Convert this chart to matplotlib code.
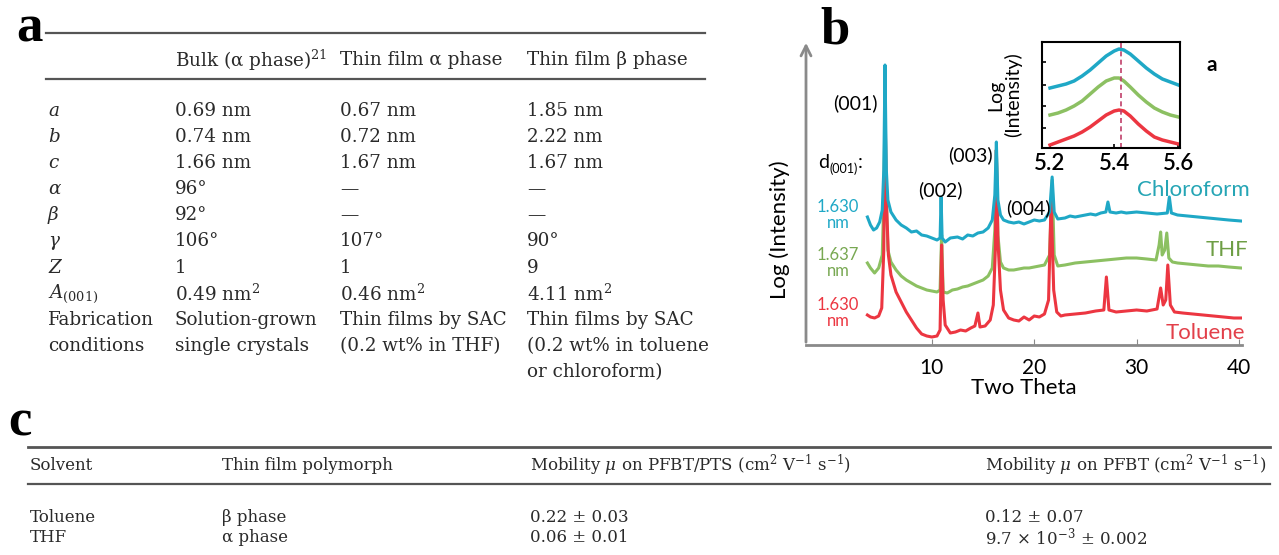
import numpy as np
import matplotlib.pyplot as plt
from matplotlib.lines import Line2D

plt.rcParams['mathtext.fontset'] = 'dejavuserif'

""" Data """
# table a
cell_params = ['a', 'b', 'c', 'α', 'β', 'γ', 'Z', '$A_{(001)}$', 'Fabrication\nconditions']
bulk_alpha = ['0.69 nm', '0.74 nm', '1.66 nm', '96°', '92°', '106°', '1', '0.49 nm$^2$',
              'Solution-grown\nsingle crystals']
film_alpha = ['0.67 nm', '0.72 nm', '1.67 nm', '—', '—', '107°', '1', '0.46 nm$^2$',
              'Thin films by SAC\n(0.2 wt% in THF)']
film_beta = ['1.85 nm', '2.22 nm', '1.67 nm', '—', '—', '90°', '9', '4.11 nm$^2$',
             'Thin films by SAC\n(0.2 wt% in toluene\nor chloroform)']
headers_a = ['Bulk (α phase)$^{21}$', 'Thin film α phase', 'Thin film β phase']

# table c
headers_c = ['Solvent', 'Thin film polymorph',
             r'Mobility $\mu$ on PFBT/PTS (cm$^2$ V$^{-1}$ s$^{-1}$)',
             r'Mobility $\mu$ on PFBT (cm$^2$ V$^{-1}$ s$^{-1}$)']
solvents = ['Toluene', 'THF']
polymorphs = ['β phase', 'α phase']
mob_pfbt_pts = ['0.22 ± 0.03', '0.06 ± 0.01']
mob_pfbt = ['0.12 ± 0.07', r'9.7 $\times$ 10$^{-3}$ ± 0.002']

# XRD traces (two theta, log intensity in arbitrary units)
chl_x = [3.7, 4.0, 4.3, 4.6, 4.9, 5.15, 5.3, 5.42, 5.55, 5.7, 6.0, 6.5, 7.0, 7.5, 8.0, 8.5,
         9.0, 9.5, 10.0, 10.5, 10.8, 10.9, 11.0, 11.3, 11.8, 12.5, 13.0, 13.5, 14.0, 14.5,
         15.0, 15.5, 15.9, 16.15, 16.3, 16.45, 16.7, 17.0, 17.5, 18.0, 18.5, 19.0, 19.5,
         20.0, 20.5, 21.0, 21.5, 21.75, 21.95, 22.3, 23.0, 23.5, 24.0, 24.5, 25.0, 25.5,
         26.0, 26.5, 27.0, 27.2, 27.4, 28.0, 28.5, 29.0, 30.0, 31.0, 32.0, 33.0, 33.2,
         33.4, 34.0, 35.0, 36.0, 37.0, 38.0, 39.0, 40.2]
chl_y = [128, 120, 115, 117, 123, 135, 175, 280, 175, 145, 133, 125, 120, 117, 113, 114,
         110, 109, 107, 105, 107, 148, 107, 103, 107, 108, 106, 110, 109, 112,
         113, 117, 125, 150, 203, 145, 130, 125, 123, 122, 123, 121, 123,
         125, 124, 125, 133, 168, 133, 126, 127, 129, 128, 129, 130, 131,
         130, 132, 133, 143, 133, 132, 133, 132, 133, 132, 131, 132, 148,
         132, 130, 129, 128, 127, 126, 125, 124]

thf_x = [3.7, 4.0, 4.4, 4.8, 5.15, 5.3, 5.42, 5.55, 5.7, 6.0, 6.5, 7.0, 7.5, 8.0, 8.5, 9.0,
         9.5, 10.0, 10.5, 10.8, 10.95, 11.1, 11.5, 12.0, 12.5, 13.0, 13.5, 14.0, 14.5, 15.0,
         15.5, 15.9, 16.15, 16.3, 16.45, 16.7, 17.0, 17.5, 18.0, 18.5, 19.0, 19.5, 20.0,
         20.5, 21.0, 21.5, 21.75, 21.95, 22.3, 23.0, 24.0, 25.0, 26.0, 27.0, 28.0, 29.0,
         30.0, 31.0, 31.9, 32.2, 32.35, 32.5, 32.75, 32.95, 33.15, 33.5, 34.0, 35.0, 36.0,
         37.0, 38.0, 39.0, 40.2]
thf_y = [82, 77, 72, 77, 90, 145, 240, 145, 95, 83, 75, 69, 65, 62, 59, 57,
         55, 54, 53, 55, 110, 53, 52, 55, 56, 58, 59, 61, 63, 65,
         69, 77, 115, 195, 110, 83, 77, 75, 75, 76, 77, 77, 78,
         79, 80, 90, 165, 90, 79, 80, 82, 83, 84, 85, 86, 87,
         87, 86, 85, 100, 113, 90, 95, 112, 87, 83, 82, 81, 80,
         79, 79, 78, 77]

tol_x = [3.7, 4.0, 4.4, 4.8, 5.1, 5.3, 5.42, 5.55, 5.75, 6.0, 6.5, 7.0, 7.5, 8.0, 8.5, 9.0,
         9.5, 10.0, 10.5, 10.8, 10.95, 11.1, 11.3, 11.8, 12.3, 12.8, 13.3, 13.8, 14.2, 14.5,
         14.7, 15.2, 15.7, 16.0, 16.2, 16.3, 16.45, 16.7, 17.0, 17.5, 18.0, 18.5, 19.0,
         19.5, 20.0, 20.5, 21.0, 21.4, 21.65, 21.9, 22.2, 22.6, 23.0, 24.0, 25.0, 26.0,
         26.8, 27.05, 27.3, 28.0, 29.0, 30.0, 31.0, 32.0, 32.35, 32.6, 32.85, 33.05, 33.3,
         33.7, 34.5, 35.5, 36.5, 37.5, 38.5, 39.5, 40.2]
tol_y = [30, 28, 27, 29, 37, 95, 250, 145, 90, 70, 53, 43, 33, 25, 17, 11,
         9, 8, 9, 15, 100, 45, 20, 12, 13, 15, 14, 17, 19, 32,
         18, 19, 25, 40, 95, 195, 105, 55, 35, 27, 25, 24, 28,
         25, 29, 28, 31, 45, 145, 55, 33, 29, 30, 31, 32, 34,
         35, 68, 35, 33, 34, 35, 34, 36, 57, 40, 45, 80, 40,
         33, 32, 31, 30, 29, 28, 27, 27]

# inset: (001) peak region
ins_x = [5.2, 5.225, 5.25, 5.275, 5.3, 5.325, 5.35, 5.375, 5.4, 5.415, 5.43, 5.45, 5.475,
         5.5, 5.525, 5.55, 5.575, 5.6]
ins_chl_y = [60, 62, 64, 67, 72, 78, 85, 92, 97, 99, 98, 94, 87, 80, 74, 69, 66, 63]
ins_thf_y = [33, 35, 38, 42, 47, 54, 61, 67, 70, 70, 67, 61, 53, 46, 40, 36, 33, 31]
ins_tol_y = [3, 6, 9, 12, 16, 21, 27, 33, 37, 38, 37, 32, 24, 17, 11, 8, 6, 4]
peak_pos = 5.42

c_chl, c_thf, c_tol = '#1fa8c6', '#8cc062', '#ec3641'

""" Layout helpers (pixel coords of the 1279x555 canvas) """
W, H = 1279, 555
fig = plt.figure(figsize=(W / 100, H / 100), dpi=100)


def put(x, y, s, **kw):
    kw.setdefault('va', 'center')
    kw.setdefault('ha', 'left')
    fig.text(x / W, 1 - y / H, s, **kw)


def rule(x0, x1, y, lw=1.6):
    fig.add_artist(Line2D([x0 / W, x1 / W], [1 - y / H] * 2, transform=fig.transFigure,
                          color='#555555', lw=lw))


serif = dict(family='DejaVu Serif', fontsize=13.2, color='#2a2a2a')
serif_c = dict(family='DejaVu Serif', fontsize=12, color='#2a2a2a')
sans = 'Lato'

""" Panel a """
put(16, 29, 'a', family='Liberation Serif', fontsize=38, fontweight='bold')
rule(46, 705, 33)
rule(46, 705, 79)
col_x = [175, 340, 527]
for cx, h in zip(col_x, headers_a):
    put(cx, 60, h, **serif)
row_y0, row_dy = 111, 26.1
for i, lab in enumerate(cell_params):
    for j, line in enumerate(lab.split('\n')):
        style = 'italic' if i < 7 else 'normal'
        put(48, row_y0 + row_dy * (i + j), line, style=style, **serif)
    for cx, col in zip(col_x, [bulk_alpha, film_alpha, film_beta]):
        for j, line in enumerate(col[i].split('\n')):
            put(cx, row_y0 + row_dy * (i + j), line, **serif)

""" Panel c """
put(8, 423, 'c', family='Liberation Serif', fontsize=38, fontweight='bold')
rule(28, 1270, 447, lw=2.0)
rule(28, 1270, 484)
c_cols = [30, 222, 530, 985]
for cx, h in zip(c_cols, headers_c):
    put(cx, 465, h, **serif_c)
for k, row in enumerate(zip(solvents, polymorphs, mob_pfbt_pts, mob_pfbt)):
    for cx, s in zip(c_cols, row):
        put(cx, 518 + 19.5 * k, s, **serif_c)

""" Panel b: XRD """
ax = fig.add_axes([806 / W, 1 - 345 / H, (1242 - 806) / W, (345 - 40) / H])
ax.plot(thf_x, thf_y, color=c_thf, lw=2.2)
ax.plot(tol_x, tol_y, color=c_tol, lw=2.2)
ax.plot(chl_x, chl_y, color=c_chl, lw=2.2)
ax.set_xlim(-2.3, 40.3)
ax.set_ylim(0, 305)
for s in ['top', 'right', 'left']:
    ax.spines[s].set_visible(False)
ax.spines['bottom'].set_color('#8a8a8a')
ax.spines['bottom'].set_linewidth(2)
ax.annotate('', xy=(0, 1.0), xytext=(0, 0), xycoords='axes fraction',
            arrowprops=dict(arrowstyle='->', color='#8a8a8a', lw=2, mutation_scale=18))
ax.set_yticks([])
ax.set_xticks([10, 20, 30, 40])
ax.tick_params(axis='x', direction='in', length=4, color='#8a8a8a', labelsize=15, pad=9)
for t in ax.get_xticklabels():
    t.set_family(sans)
ax.set_xlabel('Two Theta', family=sans, fontsize=16, labelpad=0)
ax.patch.set_alpha(0)

put(780, 230, 'Log (Intensity)', family=sans, fontsize=16, rotation=90, ha='center')
put(820, 30, 'b', family='Liberation Serif', fontsize=38, fontweight='bold')
put(855, 103, '(001)', family=sans, fontsize=14, ha='center')
put(940, 190, '(002)', family=sans, fontsize=14, ha='center')
put(970, 155, '(003)', family=sans, fontsize=14, ha='center')
put(1028, 208, '(004)', family=sans, fontsize=14, ha='center')
put(818, 163, 'd', family=sans, fontsize=14)
put(829, 169, '(001)', family=sans, fontsize=9)
put(858, 163, ':', family=sans, fontsize=14)
for y, col, lab in [(207, c_chl, '1.630'), (255, '#78a852', '1.637'), (305, c_tol, '1.630')]:
    put(838, y, lab, family=sans, fontsize=12, color=col, ha='center')
    put(838, y + 16, 'nm', family=sans, fontsize=12, color=col, ha='center')
put(1250, 190, 'Chloroform', family=sans, fontsize=16, color='#25a5b5', ha='right')
put(1248, 250, 'THF', family=sans, fontsize=16, color='#6e9e45', ha='right')
put(1245, 333, 'Toluene', family=sans, fontsize=16, color='#e2404a', ha='right')

# inset
ins = fig.add_axes([1042 / W, 1 - 148 / H, (1180 - 1042) / W, (148 - 42) / H])
ins.plot(ins_x, ins_chl_y, color=c_chl, lw=2.5)
ins.plot(ins_x, ins_thf_y, color=c_thf, lw=2.5)
ins.plot(ins_x, ins_tol_y, color=c_tol, lw=2.5)
ins.axvline(peak_pos, color='#c0406a', lw=1.2, ls=(0, (3, 2)))
ins.set_xlim(5.175, 5.605)
ins.set_ylim(0, 106)
ins.set_xticks([5.2, 5.4, 5.6])
ins.set_xticklabels(['5.2', '5.4', '5.6'])
ins.set_yticks([20, 42, 63, 86])
ins.set_yticklabels([])
ins.tick_params(direction='in', length=3, labelsize=16, width=1.2)
for t in ins.get_xticklabels():
    t.set_family(sans)
    t.set_fontweight('semibold')
for s in ins.spines.values():
    s.set_linewidth(1.5)
put(1005, 95, 'Log\n(Intensity)', family=sans, fontsize=14, rotation=90, ha='center',
    linespacing=1.0)
put(1212, 65, 'a', family=sans, fontsize=15, fontweight='bold', ha='center')

plt.savefig('out.png', dpi=100)
